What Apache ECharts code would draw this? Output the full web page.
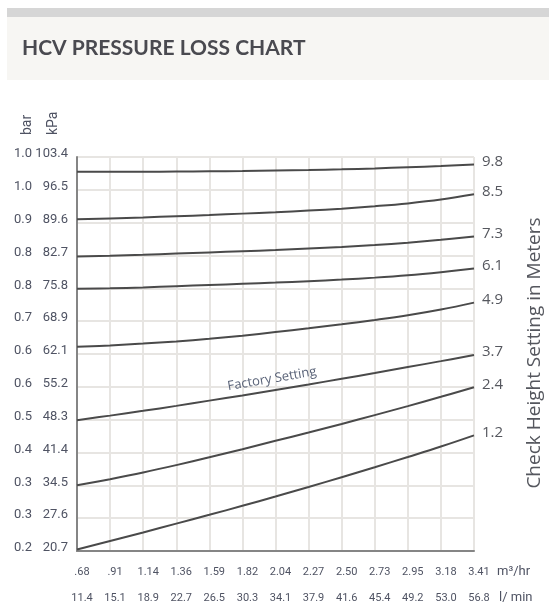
<!DOCTYPE html>
<html lang="en">
<head>
  <meta charset="UTF-8">
  <title>HCV Pressure Loss Chart</title>
  <script src="https://cdn.jsdelivr.net/npm/echarts@6/dist/echarts.min.js"></script>
  <style>
    html, body { margin: 0; padding: 0; background: #fff; }
    #chart { width: 549px; height: 606px; }
  </style>
</head>
<body>
  <div id="chart"></div>
  <script>
    // flow axis labels
    const m3hr = ['.68', '.91', '1.14', '1.36', '1.59', '1.82', '2.04', '2.27', '2.50', '2.73', '2.95', '3.18', '3.41'];
    const lmin = ['11.4', '15.1', '18.9', '22.7', '26.5', '30.3', '34.1', '37.9', '41.6', '45.4', '49.2', '53.0', '56.8'];

    // pressure axis labels, bottom to top
    const kpaLabels = ['20.7', '27.6', '34.5', '41.4', '48.3', '55.2', '62.1', '68.9', '75.8', '82.7', '89.6', '96.5', '103.4'];
    const barLabels = ['0.2', '0.3', '0.3', '0.4', '0.5', '0.6', '0.6', '0.7', '0.8', '0.8', '0.9', '1.0', '1.0'];

    // pressure loss (kPa) per check height setting
    const h98 = [100.4, 100.4, 100.4, 100.45, 100.5, 100.55, 100.65, 100.75, 100.9, 101.1, 101.35, 101.6, 101.9];
    const h85 = [90.4, 90.6, 90.8, 91.05, 91.3, 91.6, 91.9, 92.25, 92.65, 93.15, 93.75, 94.55, 95.65];
    const h73 = [82.6, 82.75, 82.95, 83.2, 83.45, 83.7, 83.95, 84.25, 84.6, 85.0, 85.5, 86.1, 86.8];
    const h61 = [75.8, 75.9, 76.1, 76.35, 76.6, 76.85, 77.1, 77.4, 77.75, 78.15, 78.65, 79.3, 80.05];
    const h49 = [63.6, 63.9, 64.3, 64.75, 65.3, 65.95, 66.7, 67.5, 68.35, 69.25, 70.25, 71.45, 72.9];
    const h37 = [48.2, 49.15, 50.15, 51.2, 52.3, 53.4, 54.55, 55.7, 56.9, 58.1, 59.35, 60.6, 61.9];
    const h24 = [34.5, 35.8, 37.2, 38.75, 40.4, 42.1, 43.85, 45.6, 47.4, 49.25, 51.15, 53.1, 55.1];
    const h12 = [21.0, 22.8, 24.6, 26.45, 28.3, 30.2, 32.15, 34.15, 36.2, 38.3, 40.45, 42.65, 45.0];

    const heights = [
      { name: '9.8', data: h98 },
      { name: '8.5', data: h85 },
      { name: '7.3', data: h73 },
      { name: '6.1', data: h61 },
      { name: '4.9', data: h49 },
      { name: '3.7', data: h37 },
      { name: '2.4', data: h24 },
      { name: '1.2', data: h12 }
    ];

    const labelColor = '#4f5363';
    const gridColor = '#e7e5e2';
    // ticks must stay "on" for split lines to be drawn, so make them invisible instead
    const hiddenTick = { show: true, length: 0, lineStyle: { color: 'rgba(0,0,0,0)' } };

    const chart = echarts.init(document.getElementById('chart'), null, { renderer: 'canvas' });

    const option = {
      backgroundColor: '#ffffff',
      animation: false,
      grid: { left: 77, right: 75, top: 157, bottom: 55 },
      xAxis: [
        {
          type: 'category',
          data: m3hr,
          boundaryGap: false,
          axisLine: { show: true, lineStyle: { color: '#858585', width: 2 } },
          axisTick: hiddenTick,
          axisLabel: { margin: 16, color: labelColor, fontSize: 11, fontFamily: 'Roboto', padding: [0, 0, 0, 10] },
          splitLine: { show: true, lineStyle: { color: gridColor, width: 2 } }
        },
        {
          type: 'category',
          data: lmin,
          position: 'bottom',
          offset: 26,
          boundaryGap: false,
          axisLine: { show: false },
          axisTick: { show: false },
          axisLabel: { margin: 16, color: labelColor, fontSize: 11, fontFamily: 'Roboto', padding: [0, 0, 0, 10] },
          splitLine: { show: false }
        }
      ],
      yAxis: {
        type: 'value',
        min: 20.7,
        max: 103.5,
        interval: 6.9,
        axisLine: { show: true, lineStyle: { color: '#858585', width: 2 } },
        axisTick: hiddenTick,
        splitLine: { show: true, lineStyle: { color: gridColor, width: 2 } },
        axisLabel: {
          margin: 9,
          padding: [0, 0, 6, 0],
          formatter: function (v) {
            const i = Math.round((v - 20.7) / 6.9);
            return '{b|' + barLabels[i] + '}{k|' + kpaLabels[i] + '}';
          },
          rich: {
            b: { width: 22, align: 'right', color: labelColor, fontSize: 13, fontFamily: 'Roboto' },
            k: { width: 36, align: 'right', color: labelColor, fontSize: 13, fontFamily: 'Roboto' }
          }
        }
      },
      series: heights.map(function (h) {
        return {
          name: h.name,
          type: 'line',
          data: h.data,
          smooth: 0.4,
          showSymbol: false,
          silent: true,
          lineStyle: { color: '#4a4a4a', width: 2 },
          endLabel: {
            show: true,
            formatter: '{a}',
            distance: 8,
            offset: [0, -3],
            color: '#55575e',
            fontSize: 15,
            fontFamily: 'Open Sans'
          }
        };
      }),
      graphic: [
        { type: 'rect', shape: { x: 7, y: 8, width: 542, height: 9 }, style: { fill: '#d6d6d6' } },
        { type: 'rect', shape: { x: 7, y: 17, width: 542, height: 63 }, style: { fill: '#f7f6f3' } },
        {
          type: 'text', x: 22, y: 48,
          style: { text: 'HCV PRESSURE LOSS CHART', fill: '#4a4a50', font: 'bold 21px Lato', verticalAlign: 'middle' }
        },
        {
          type: 'text', x: 27, y: 135, rotation: Math.PI / 2,
          style: { text: 'bar', fill: labelColor, font: '14px Roboto', verticalAlign: 'middle', align: 'left' }
        },
        {
          type: 'text', x: 53, y: 135, rotation: Math.PI / 2,
          style: { text: 'kPa', fill: labelColor, font: '14px Roboto', verticalAlign: 'middle', align: 'left' }
        },
        {
          type: 'text', x: 272, y: 379, rotation: 0.17, z: 20,
          style: { text: 'Factory Setting', fill: '#5a6378', font: '13px "Open Sans"', verticalAlign: 'middle', align: 'center' }
        },
        {
          type: 'text', x: 535, y: 353, rotation: Math.PI / 2,
          style: { text: 'Check Height Setting in Meters', fill: '#55575e', font: '19px "Open Sans"', verticalAlign: 'middle', align: 'center' }
        },
        {
          type: 'text', x: 497, y: 572,
          style: { text: 'm³/hr', fill: labelColor, font: '13px Roboto', verticalAlign: 'middle' }
        },
        {
          type: 'text', x: 499, y: 598,
          style: { text: 'l/ min', fill: labelColor, font: '13px Roboto', verticalAlign: 'middle' }
        }
      ]
    };

    chart.setOption(option);
  </script>
</body>
</html>
